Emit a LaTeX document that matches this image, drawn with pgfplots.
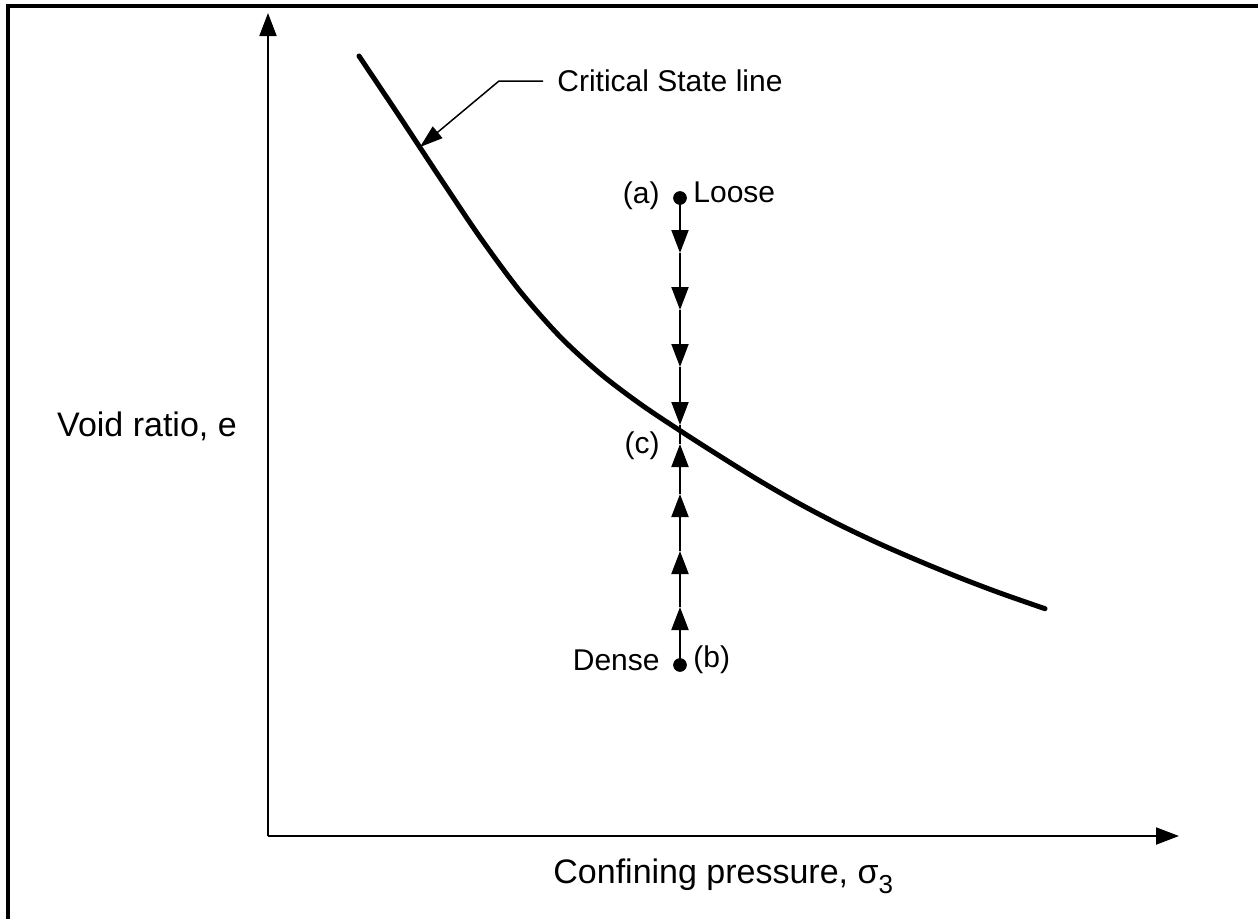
\documentclass[border=0pt]{standalone}
\usepackage{pgfplots}
\pgfplotsset{compat=1.18}
\usetikzlibrary{arrows.meta}
\usepackage{fontspec}
\setmainfont{Liberation Sans}

\begin{document}
\begin{tikzpicture}[
    lbl/.style={font=\fontsize{15}{18}\selectfont, inner sep=0pt},
    big/.style={font=\fontsize{17}{20}\selectfont, inner sep=0pt},
    arr/.style={line width=1pt, -{Triangle[length=11.5pt,width=8.5pt]}},
  ]
\useasboundingbox (-134pt,-41pt) rectangle (495pt,418pt);
% frame (only left and top edges show in the reference)
\draw[line width=2pt] (-130pt,-50pt) -- (-130pt,415pt) -- (505pt,415pt);
\begin{axis}[
    at={(0,0)}, anchor=south west,
    scale only axis,
    width=455.5pt, height=411.5pt,
    xmin=0, xmax=911,
    ymin=0, ymax=823,
    axis lines=left,
    xtick=\empty, ytick=\empty,
    axis line style={line width=1pt},
    x axis line style={-{Triangle[length=11.5pt,width=8.5pt]}},
    y axis line style={-{Triangle[length=11.5pt,width=8.5pt]}},
    clip=false,
  ]
  % critical state line
  \addplot[line width=2.5pt, smooth, line cap=round] coordinates {
    (91,780) (132,718.8) (172,658.2) (212,598.8) (252,544.8) (292,499.4)
    (332,462.6) (372,432.2) (412,405.4) (452,379.8) (492,355) (532,332)
    (572,311) (612,292) (652,274.6) (692,258.2) (732,243) (777,227.3)
  };
  % loose path (a) -> (c)
  \addplot[arr] coordinates {(412,638) (412,583)};
  \addplot[arr] coordinates {(412,583) (412,526)};
  \addplot[arr] coordinates {(412,526) (412,469)};
  \addplot[arr] coordinates {(412,469) (412,411)};
  \addplot[line width=1pt] coordinates {(412,411) (412,392)};
  % dense path (b) -> (c)
  \addplot[arr] coordinates {(412,171) (412,229)};
  \addplot[arr] coordinates {(412,229) (412,285)};
  \addplot[arr] coordinates {(412,285) (412,342)};
  \addplot[arr] coordinates {(412,342) (412,392)};
  % states
  \addplot[only marks, mark=*, mark size=3.2pt] coordinates {(412,638) (412,171)};
  % leader to the curve
  \addplot[line width=0.75pt, -{Triangle[length=11.5pt,width=7.5pt]}] coordinates {
    (275,755) (231,755) (152,689)
  };

  \node[lbl, anchor=base west] at (axis cs:289,745) {Critical State line};
  \node[lbl, anchor=base east] at (axis cs:392,633) {(a)};
  \node[lbl, anchor=base west] at (axis cs:425,634) {Loose};
  \node[lbl, anchor=base east] at (axis cs:392,383) {(c)};
  \node[lbl, anchor=base east] at (axis cs:392,166) {Dense};
  \node[lbl, anchor=base west] at (axis cs:425,169) {(b)};
  \node[big, anchor=base] at (axis cs:-121,400) {Void ratio, e};
  \node[big, anchor=base west] at (axis cs:285,-47)
    {Confining pressure, σ\raisebox{-0.3em}{\fontsize{13}{14}\selectfont 3}};
\end{axis}
\end{tikzpicture}
\end{document}
